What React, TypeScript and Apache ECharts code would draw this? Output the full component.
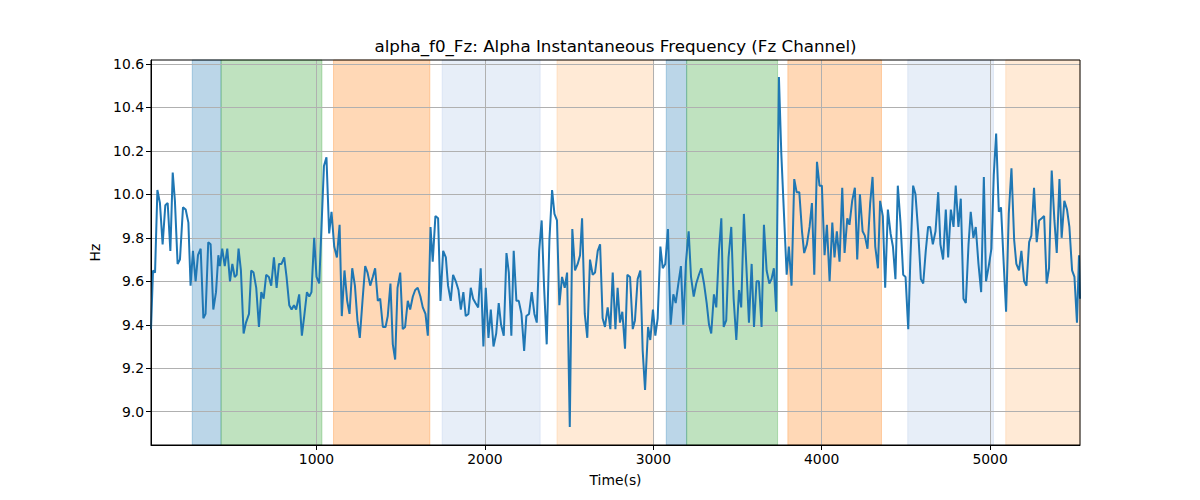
import React, { useEffect, useRef } from "react";
import * as echarts from "echarts";

// [time (s), frequency (Hz)], in consecutive pieces
const part1: [number, number][] = [
  [17, 9.38], [29, 9.65], [41, 9.64], [55, 10.02], [70, 9.96], [86, 9.77], [102, 9.95], [116, 9.96],
  [132, 9.74], [146, 10.1], [159, 9.97], [175, 9.68], [189, 9.7], [207, 9.94], [223, 9.93], [239, 9.87],
  [252, 9.58], [266, 9.74], [282, 9.6], [296, 9.72], [312, 9.75], [328, 9.43], [341, 9.45], [357, 9.78],
  [371, 9.77], [387, 9.47], [403, 9.55], [417, 9.72], [426, 9.67], [440, 9.75], [455, 9.67], [470, 9.75],
  [486, 9.6], [500, 9.68], [514, 9.62], [526, 9.63], [537, 9.75], [551, 9.65], [567, 9.36], [581, 9.41],
  [599, 9.45], [612, 9.65], [626, 9.64], [642, 9.57], [658, 9.39], [672, 9.55], [686, 9.52], [701, 9.63],
  [717, 9.62], [731, 9.58], [747, 9.71], [763, 9.57], [777, 9.68], [792, 9.68], [808, 9.71], [822, 9.62],
  [838, 9.49], [852, 9.47], [866, 9.49], [879, 9.47], [897, 9.54], [913, 9.35], [927, 9.44], [943, 9.55],
  [957, 9.53], [970, 9.55],
];
const part2: [number, number][] = [
  [986, 9.8], [1000, 9.62], [1016, 9.59], [1044, 10.13], [1059, 10.17], [1075, 9.82], [1089, 9.92],
  [1105, 9.76], [1121, 9.71], [1137, 9.86], [1150, 9.44], [1166, 9.65], [1182, 9.51], [1196, 9.45],
  [1212, 9.66], [1228, 9.58], [1243, 9.42], [1257, 9.34], [1273, 9.51], [1289, 9.67], [1303, 9.64],
  [1319, 9.58], [1334, 9.62], [1348, 9.66], [1364, 9.51], [1378, 9.52], [1394, 9.39], [1410, 9.39],
  [1423, 9.44], [1439, 9.59], [1453, 9.31], [1467, 9.24], [1481, 9.57], [1497, 9.64], [1512, 9.38],
  [1526, 9.39], [1542, 9.51], [1556, 9.47], [1572, 9.53], [1586, 9.56], [1601, 9.57], [1617, 9.53],
  [1631, 9.48], [1647, 9.45], [1661, 9.35], [1677, 9.85], [1690, 9.69], [1706, 9.9], [1722, 9.89],
  [1736, 9.51], [1752, 9.74], [1768, 9.71], [1781, 9.58], [1797, 9.51], [1811, 9.63], [1827, 9.6],
  [1843, 9.56], [1857, 9.47], [1872, 9.55], [1886, 9.44], [1902, 9.45],
];
const part3: [number, number][] = [
  [1916, 9.57], [1930, 9.52], [1944, 9.5], [1960, 9.48], [1975, 9.66], [1991, 9.3], [2005, 9.57],
  [2021, 9.34], [2035, 9.47], [2051, 9.3], [2067, 9.36], [2082, 9.5], [2096, 9.4], [2112, 9.35],
  [2128, 9.73], [2142, 9.64], [2157, 9.35], [2171, 9.74], [2187, 9.51], [2201, 9.51], [2217, 9.45],
  [2233, 9.28], [2246, 9.44], [2262, 9.45], [2278, 9.55], [2294, 9.45], [2308, 9.41], [2322, 9.74],
  [2337, 9.88], [2351, 9.58], [2367, 9.31], [2383, 9.79], [2399, 10.02], [2413, 9.91], [2428, 9.88],
  [2442, 9.49], [2458, 9.62], [2474, 9.57], [2488, 9.64], [2504, 8.93], [2519, 9.84], [2535, 9.65],
  [2551, 9.68], [2565, 9.72], [2577, 9.89], [2593, 9.45], [2608, 9.34], [2624, 9.7], [2640, 9.63],
  [2654, 9.64], [2670, 9.74], [2684, 9.77], [2699, 9.43], [2713, 9.39], [2729, 9.48], [2745, 9.38],
  [2759, 9.64], [2775, 9.38], [2788, 9.57], [2802, 9.41],
];
const part4: [number, number][] = [
  [2816, 9.46], [2832, 9.29], [2846, 9.63], [2862, 9.62], [2878, 9.38], [2891, 9.42], [2907, 9.61],
  [2923, 9.65], [2937, 9.28], [2951, 9.1], [2969, 9.39], [2982, 9.33], [2998, 9.47], [3012, 9.35],
  [3026, 9.43], [3042, 9.76], [3056, 9.66], [3071, 9.68], [3087, 9.84], [3103, 9.4], [3119, 9.54],
  [3133, 9.5], [3149, 9.59], [3164, 9.67], [3178, 9.4], [3194, 9.69], [3210, 9.83], [3224, 9.62],
  [3240, 9.53], [3255, 9.59], [3271, 9.63], [3285, 9.66], [3301, 9.59], [3317, 9.5], [3331, 9.4],
  [3344, 9.36], [3360, 9.54], [3374, 9.48], [3390, 9.74], [3404, 9.89], [3418, 9.39], [3433, 9.42],
  [3447, 9.71], [3463, 9.85], [3477, 9.52], [3493, 9.33], [3509, 9.56], [3522, 9.48], [3538, 9.91],
  [3552, 9.68], [3568, 9.41], [3584, 9.68], [3598, 9.39], [3613, 9.6], [3627, 9.6], [3643, 9.39],
  [3657, 9.86], [3673, 9.65], [3689, 9.59], [3702, 9.61], [3716, 9.66], [3730, 9.46],
];
const part5: [number, number][] = [
  [3746, 10.54], [3760, 10.19], [3776, 9.91], [3792, 9.63], [3805, 9.76], [3821, 9.58], [3837, 10.07],
  [3851, 10.01], [3867, 10.01], [3883, 9.83], [3896, 9.73], [3912, 9.77], [3928, 9.85], [3942, 9.96],
  [3956, 9.63], [3972, 10.15], [3987, 10.04], [4001, 10.04], [4017, 9.72], [4031, 9.86], [4047, 9.6],
  [4063, 9.87], [4076, 9.71], [4090, 9.83], [4106, 9.69], [4122, 10.03], [4136, 9.73], [4152, 9.89],
  [4165, 9.86], [4181, 9.97], [4197, 10.03], [4211, 9.7], [4227, 10.0], [4243, 9.83], [4256, 9.81],
  [4272, 9.75], [4288, 9.96], [4302, 10.08], [4318, 9.76], [4334, 9.66], [4347, 9.97], [4363, 9.9],
  [4377, 9.57], [4393, 9.93], [4409, 9.82], [4423, 9.76], [4438, 9.61], [4452, 10.04], [4468, 9.87],
  [4484, 9.63], [4498, 9.62], [4514, 9.38], [4527, 9.71], [4543, 10.04], [4557, 10.0], [4573, 9.83],
  [4589, 9.61], [4603, 9.59], [4618, 9.74], [4632, 9.85],
];
const part6: [number, number][] = [
  [4644, 9.85], [4660, 9.77], [4676, 9.83], [4692, 10.01], [4705, 9.77], [4721, 9.7], [4737, 9.93],
  [4751, 9.71], [4767, 9.93], [4783, 9.85], [4796, 10.04], [4812, 9.85], [4826, 9.98], [4842, 9.52],
  [4856, 9.5], [4872, 9.77], [4885, 9.92], [4901, 9.8], [4915, 9.85], [4931, 9.68], [4947, 9.55],
  [4963, 10.08], [4976, 9.6], [4992, 9.67], [5008, 9.75], [5022, 10.09], [5036, 10.28], [5052, 9.92],
  [5065, 9.94], [5081, 9.68], [5095, 9.46], [5111, 9.91], [5127, 10.12], [5143, 9.79], [5156, 9.68],
  [5172, 9.65], [5186, 9.74], [5202, 9.6], [5216, 9.58], [5232, 9.78], [5245, 9.81], [5261, 10.03],
  [5277, 9.78], [5291, 9.88], [5307, 9.89], [5321, 9.9], [5336, 9.59], [5350, 9.66], [5366, 10.11],
  [5382, 9.88], [5396, 9.73], [5412, 10.07], [5425, 9.8], [5441, 9.97], [5457, 9.93], [5471, 9.85],
  [5487, 9.65], [5501, 9.62], [5516, 9.41], [5528, 9.72], [5534, 9.52],
];

// shaded intervals [start, end, colour key]
const spans: [number, number, string][] = [
  [262, 433, "blue"], [433, 1032, "green"], [1101, 1673, "orange"], [1746, 2328, "lightblue"],
  [2428, 3002, "lightorange"], [3077, 3198, "blue"], [3198, 3738, "green"], [3799, 4355, "orange"],
  [4511, 5020, "lightblue"], [5093, 5534, "lightorange"],
];
const spanColors: Record<string, string> = {
  blue: "rgba(31,119,180,0.3)",
  green: "rgba(44,160,44,0.3)",
  orange: "rgba(255,127,14,0.3)",
  lightblue: "rgba(174,199,232,0.3)",
  lightorange: "rgba(255,187,120,0.3)",
};

const xTicks = [1000, 2000, 3000, 4000, 5000];
const yTicks = [9.0, 9.2, 9.4, 9.6, 9.8, 10.0, 10.2, 10.4, 10.6];
const xMin = 17;
const xMax = 5534;
const yMin = 8.847;
const yMax = 10.618;

const titleText = "alpha_f0_Fz: Alpha Instantaneous Frequency (Fz Channel)";

export default function App() {
  const ref = useRef<HTMLDivElement>(null);
  useEffect(() => {
    document.body.style.margin = "0";
    if (!ref.current) return;
    const chart = echarts.init(ref.current, null, { renderer: "svg" });
    const data = [...part1, ...part2, ...part3, ...part4, ...part5, ...part6];
    const font = "DejaVu Sans";
    chart.setOption({
      animation: false,
      grid: {
        left: 151,
        right: 120,
        top: 60,
        bottom: 55,
        show: true,
        borderColor: "#000",
        borderWidth: 1,
        backgroundColor: "transparent",
        z: 4,
      },
      graphic: [
        {
          type: "text",
          x: 615.5,
          y: 46,
          style: {
            text: titleText,
            fill: "#000",
            font: `16.7px ${font}`,
            textAlign: "center",
            textVerticalAlign: "middle",
          },
        },
      ],
      xAxis: {
        type: "value",
        min: xMin,
        max: xMax,
        z: 2,
        name: "Time(s)",
        nameLocation: "middle",
        nameGap: 28,
        nameTextStyle: { fontFamily: font, fontSize: 13.9, color: "#000" },
        axisLine: { show: true, lineStyle: { color: "#000", width: 1 } },
        axisTick: { show: true, length: 5, lineStyle: { color: "#000" }, customValues: xTicks },
        axisLabel: {
          fontFamily: font,
          fontSize: 13.9,
          color: "#000",
          margin: 7,
          customValues: xTicks,
          formatter: (v: number) => String(v),
        },
        splitLine: { show: true, lineStyle: { color: "#b0b0b0", width: 1 } },
      },
      yAxis: {
        type: "value",
        min: yMin,
        max: yMax,
        z: 2,
        name: "Hz",
        nameLocation: "middle",
        nameGap: 47,
        nameTextStyle: { fontFamily: font, fontSize: 13.9, color: "#000" },
        axisLine: { show: true, lineStyle: { color: "#000", width: 1 } },
        axisTick: { show: true, length: 5, lineStyle: { color: "#000" }, customValues: yTicks },
        axisLabel: {
          fontFamily: font,
          fontSize: 13.9,
          color: "#000",
          margin: 7,
          customValues: yTicks,
          formatter: (v: number) => v.toFixed(1),
        },
        splitLine: { show: true, lineStyle: { color: "#b0b0b0", width: 1 } },
      },
      series: [
        {
          type: "line",
          data: [],
          z: 1,
          silent: true,
          markArea: {
            silent: true,
            data: spans.map(([a, b, c]) => [
              {
                xAxis: a,
                itemStyle: { color: spanColors[c], borderColor: spanColors[c], borderWidth: 1 },
              },
              { xAxis: b },
            ]),
          },
        },
        {
          type: "line",
          data,
          showSymbol: false,
          symbol: "none",
          lineStyle: { color: "#1f77b4", width: 2 },
          z: 3,
        },
      ],
    });
    return () => chart.dispose();
  }, []);
  return <div ref={ref} style={{ width: 1200, height: 500 }} />;
}
